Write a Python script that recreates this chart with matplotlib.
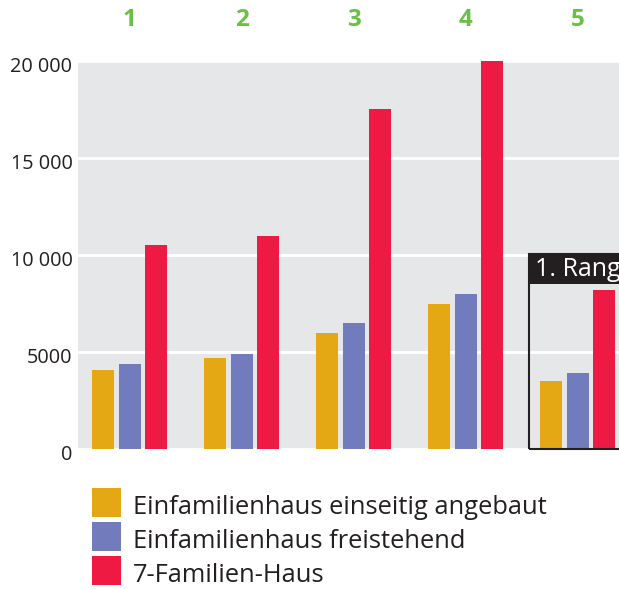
import matplotlib
matplotlib.use("Agg")
import matplotlib.pyplot as plt
import matplotlib.transforms as mtransforms
import numpy as np
from matplotlib.patches import Rectangle

plt.rcParams['font.family'] = ['Open Sans', 'DejaVu Sans']

groups = ['1', '2', '3', '4', '5']
series = ['Einfamilienhaus einseitig angebaut',
          'Einfamilienhaus freistehend',
          '7-Familien-Haus']
einseitig = [4050, 4700, 6000, 7500, 3500]
freistehend = [4400, 4900, 6500, 8000, 3900]
sieben = [10500, 11000, 17550, 20000, 8200]
yticks = [0, 5000, 10000, 15000, 20000]
ytick_labels = ['0', '5000', '10 000', '15 000', '20 000']
colors = ['#e3a813', '#727cbc', '#ef1a44']
best = 4
best_label = '1. Rang'

fig = plt.figure(figsize=(6.19, 5.89), dpi=100)
ax = fig.add_axes([78 / 619, 140 / 589, 1 - 78 / 619, 388 / 589])
ax.set_facecolor('#e6e7e9')

x = np.arange(len(groups))
w = 0.196
offs = [-0.237, 0.0, 0.237]
for vals, off, c in zip([einseitig, freistehend, sieben], offs, colors):
    ax.bar(x + off, vals, width=w, color=c, zorder=3)

ax.set_xlim(-0.46, 4.37)
ax.set_ylim(0, 20000)
ax.set_yticks(yticks)
ax.set_yticklabels(ytick_labels, fontsize=14.3, color='#231f20')
ax.set_xticks([])
ax.tick_params(axis='y', length=0, pad=4)
shift = mtransforms.ScaledTranslation(0, -2.5 / 72, fig.dpi_scale_trans)
for lbl in ax.get_yticklabels():
    lbl.set_transform(lbl.get_transform() + shift)
ax.grid(axis='y', color='white', linewidth=2, zorder=1)
for s in ax.spines.values():
    s.set_visible(False)

for xi, g in zip(x, groups):
    ax.text(xi, 1.105, g, transform=ax.get_xaxis_transform(), ha='center',
            va='center', fontsize=17.5, fontweight='bold', color='#6abf45')

# highlight box around the winner
bx = best - 0.433
ax.add_patch(Rectangle((bx, 0), 1.2, 10050, fill=False, edgecolor='#231f20',
                       linewidth=1.5, zorder=4, clip_on=False))
ax.add_patch(Rectangle((bx, 8500), 1.2, 1550, facecolor='#231f20',
                       edgecolor='none', zorder=5))
ax.text(bx + 0.055, 9230, best_label, color='white', fontsize=18,
        va='center', ha='left', zorder=6)

# legend
for i, (lab, c) in enumerate(zip(series, colors)):
    top = 488 + 34 * i
    fig.add_artist(Rectangle((92 / 619, 1 - (top + 29) / 589), 29 / 619, 29 / 589,
                             transform=fig.transFigure, facecolor=c, edgecolor='none'))
    fig.text(133 / 619, 1 - (top + 26) / 589, lab, fontsize=18.4,
             color='#231f20', va='baseline', ha='left')

fig.savefig('out.png', dpi=100)
